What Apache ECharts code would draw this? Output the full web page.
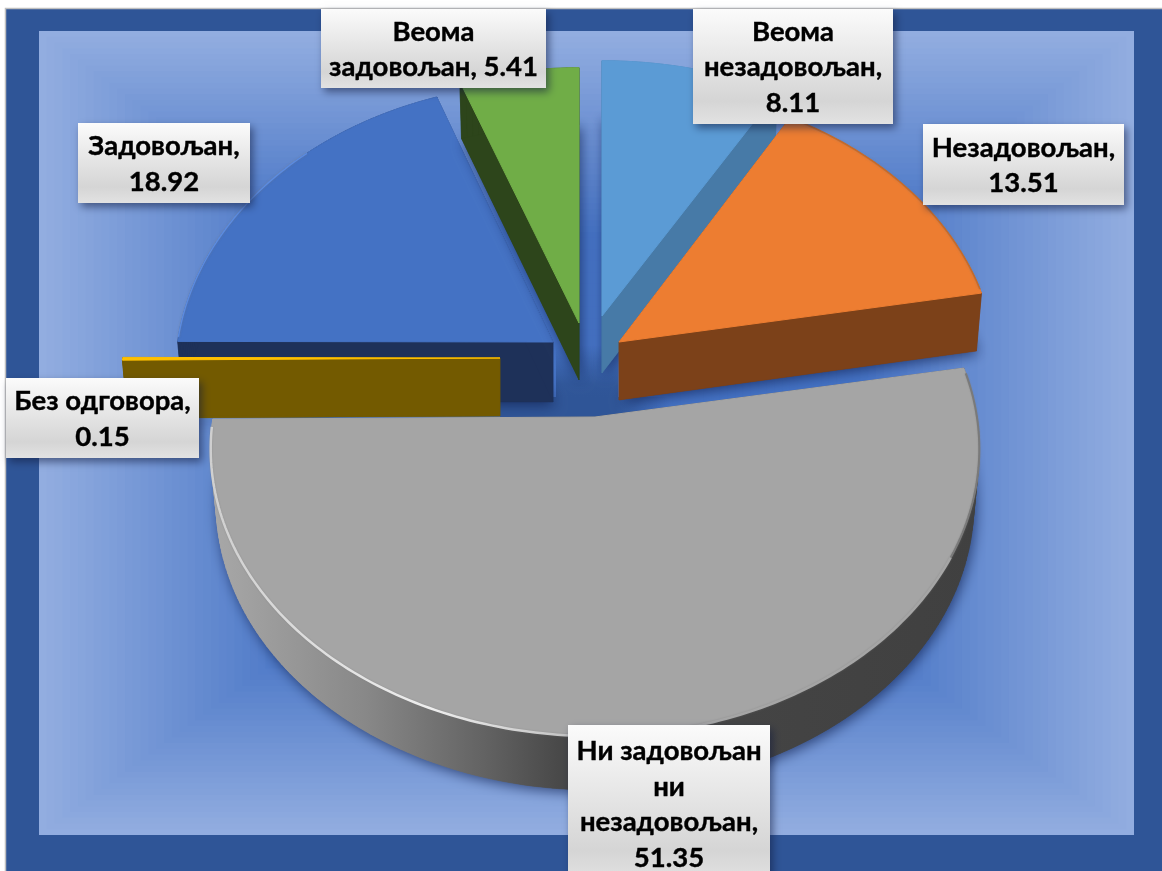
<!DOCTYPE html>
<html>
<head>
<meta charset="utf-8">
<title>Задовољство</title>
<style>
  html, body { margin: 0; padding: 0; background: #fff; }
  #main { width: 1162px; height: 871px; }
</style>
<script src="https://cdn.jsdelivr.net/npm/echarts@6/dist/echarts.min.js"></script>
</head>
<body>
<div id="main"></div>
<script>
// chart data, clockwise from 12 o'clock
var categories = ['Веома\nнезадовољан', 'Незадовољан', 'Ни задовољан\nни\nнезадовољан', 'Без одговора', 'Задовољан', 'Веома\nзадовољан'];
var values = [8.11, 13.51, 51.35, 0.15, 18.92, 5.41];
var valueSeparators = [',\n', ',\n', ',\n', ',\n', ',\n', ', '];

// colours of each slice
var topColors = ['#5b9bd5', '#ed7d31', '#a5a5a5', '#ffc000', '#4472c4', '#70ad47'];
var sideColors = ['#477aa7', '#7c4119', '#444444', '#735a00', '#1e3159', '#2d451b'];

// layout of the exploded slices
var apexX = [602, 619, 595, 500, 553, 579];
var apexY = [316, 342, 417, 358, 342, 323];
var scaleX = [1, 0.975, 0.992, 0.98, 0.975, 1];
var scaleY = [1, 1, 1, 1, 1.015, 1];
var depths = [57, 58, 54, 58, 60, 57];
var drawOrder = [0, 1, 4, 5, 3, 2];
var labelBoxes = [
  [693, 9, 200, 115],
  [923, 124, 201, 81],
  [568, 725, 202, 157],
  [6, 378, 193, 80],
  [78, 123, 172, 80],
  [321, 9, 225, 79]
];

var radiusX = 385;
var radiusY = 283.6;
var perspective = 0.111;
var bottomShrink = 0.986;

var total = values.reduce(function (a, b) { return a + b; }, 0);

function project(i, deg) {
  var a = deg * Math.PI / 180;
  var s = 1 / (1 + perspective * Math.cos(a));
  return [apexX[i] + radiusX * scaleX[i] * Math.sin(a) * s, apexY[i] - radiusY * scaleY[i] * Math.cos(a) * s];
}

function sliceAngles(i) {
  var start = 0;
  for (var k = 0; k < i; k++) start += values[k];
  return [start / total * 360, (start + values[i]) / total * 360];
}

function slicePoints(i) {
  var range = sliceAngles(i);
  var pts = [[apexX[i], apexY[i]]];
  var steps = Math.max(2, Math.ceil(range[1] - range[0]));
  for (var n = 0; n <= steps; n++) {
    pts.push(project(i, range[0] + (range[1] - range[0]) * n / steps));
  }
  return pts;
}

// the lower face sits further from the eye, so it is a little narrower
function lowered(i, pts) {
  return pts.map(function (p) {
    return [apexX[i] + (p[0] - apexX[i]) * bottomShrink, p[1] + depths[i]];
  });
}

function sideFill(i) {
  if (i !== 2) return sideColors[i];
  // the big slice is lit from the left
  return new echarts.graphic.LinearGradient(212, 0, 978, 0, [
    { offset: 0, color: '#a8a8a8' },
    { offset: 0.2, color: '#888888' },
    { offset: 0.35, color: '#646464' },
    { offset: 0.46, color: '#474747' },
    { offset: 1, color: '#404040' }
  ], true);
}

function rimLine(i, from, to, stroke, width, z2) {
  var pts = [];
  for (var d = from; d <= to; d++) pts.push(project(i, d));
  return {
    type: 'polyline',
    z2: z2,
    shape: { points: pts },
    style: { fill: 'none', lineWidth: width, stroke: stroke, shadowBlur: 2, shadowColor: 'rgba(120,120,120,0.5)' }
  };
}

function renderSlice(params, api) {
  var i = params.dataIndex;
  var base = 10 + drawOrder.indexOf(i) * 10;
  var pts = slicePoints(i);
  var low = lowered(i, pts);
  var fill = sideFill(i);
  var children = [{
    type: 'polygon',
    z2: base,
    shape: { points: low },
    style: { fill: fill, shadowBlur: 13, shadowOffsetX: 2, shadowOffsetY: 3, shadowColor: 'rgba(10,25,70,0.65)' }
  }];
  for (var n = 0; n < pts.length; n++) {
    var m = (n + 1) % pts.length;
    children.push({
      type: 'polygon',
      z2: base + 1,
      shape: { points: [pts[n], pts[m], low[m], low[n]] },
      style: { fill: fill, stroke: fill, lineWidth: 0.5 }
    });
  }
  children.push({
    type: 'polygon',
    z2: base + 2,
    shape: { points: pts },
    style: { fill: topColors[i], stroke: topColors[i], lineWidth: 1 }
  });
  // bevels along the rims
  if (i === 2) {
    children.push(rimLine(i, 118, 268, new echarts.graphic.LinearGradient(212, 0, 700, 0, [
      { offset: 0, color: '#d0d0d0' },
      { offset: 0.45, color: '#eeeeee' },
      { offset: 0.8, color: '#b8b8b8' },
      { offset: 1, color: '#a5a5a5' }
    ], true), 2.5, base + 3));
    children.push(rimLine(i, 81, 118, '#7a7a7a', 2, base + 3));
  }
  if (i === 1) children.push(rimLine(i, 31, 79, '#c66a2a', 1.5, base + 3));
  if (i === 4) children.push(rimLine(i, 271, 315, '#5b8be0', 1.5, base + 3));
  return { type: 'group', children: children };
}

function renderLabel(params, api) {
  var i = params.dataIndex;
  var box = labelBoxes[i];
  return {
    type: 'group',
    children: [{
      type: 'rect',
      z2: 100 + i,
      shape: { x: box[0], y: box[1], width: box[2], height: box[3] },
      style: {
        fill: new echarts.graphic.LinearGradient(0, 0, 0, 1, [
          { offset: 0, color: '#fbfbfb' },
          { offset: 0.8, color: '#d5d5d5' },
          { offset: 1, color: '#e2e2e2' }
        ]),
        shadowBlur: 8, shadowOffsetX: 3, shadowOffsetY: 4, shadowColor: 'rgba(15,25,60,0.55)'
      }
    }, {
      type: 'text',
      z2: 120 + i,
      style: {
        x: box[0] + box[2] / 2,
        y: box[1] + box[3] / 2 + 1,
        text: categories[i] + valueSeparators[i] + values[i],
        align: 'center',
        verticalAlign: 'middle',
        fill: '#000',
        stroke: '#000',
        lineWidth: 0.4,
        font: 'bold 27.5px Lato, "Open Sans", sans-serif',
        lineHeight: 35.5
      }
    }]
  };
}

// picture area: a rectangular gradient, light at the edges and darker inside
var background = [{
  type: 'rect',
  z: -10,
  shape: { x: 5.5, y: 8.5, width: 1170, height: 880 },
  style: { fill: '#2f5597', stroke: '#bfbfbf', lineWidth: 1.5 }
}];
var bands = 70;
for (var b = 0; b < bands; b++) {
  var t = 1 - b / bands;
  var mix = Math.max(0, (t - 0.5) / 0.5);
  var r = Math.round(0x44 + (0x92 - 0x44) * mix);
  var g = Math.round(0x72 + (0xad - 0x72) * mix);
  var bl = Math.round(0xc4 + (0xe0 - 0xc4) * mix);
  background.push({
    type: 'rect',
    z: -9,
    shape: {
      x: 586.5 - 547.5 * t,
      y: 433 - 402 * t,
      width: 1095 * t,
      height: 804 * t
    },
    style: { fill: 'rgb(' + r + ',' + g + ',' + bl + ')' }
  });
}
// dark pool on the floor below the exploded slices, fading upwards and to the right
background.push({
  type: 'rect',
  z: -8,
  shape: { x: 556, y: 345, width: 62, height: 52 },
  style: {
    fill: new echarts.graphic.LinearGradient(0, 0, 0, 1, [
      { offset: 0, color: 'rgba(47,85,151,0)' },
      { offset: 0.75, color: 'rgba(47,85,151,0.95)' },
      { offset: 1, color: '#2f5597' }
    ])
  }
}, {
  type: 'rect',
  z: -8,
  shape: { x: 500, y: 397, width: 170, height: 22 },
  style: {
    fill: new echarts.graphic.LinearGradient(0, 0, 1, 0, [
      { offset: 0, color: '#2f5597' },
      { offset: 0.68, color: '#2f5597' },
      { offset: 1, color: 'rgba(47,85,151,0)' }
    ])
  }
});

var chart = echarts.init(document.getElementById('main'), null, { renderer: 'canvas' });
var seriesData = values.map(function (v, i) { return { name: categories[i], value: v }; });

chart.setOption({
  animation: false,
  graphic: { elements: background },
  series: [
    { type: 'custom', coordinateSystem: 'none', renderItem: renderSlice, data: seriesData, silent: true },
    { type: 'custom', coordinateSystem: 'none', renderItem: renderLabel, data: seriesData, silent: true, z: 5 }
  ]
});
</script>
</body>
</html>
